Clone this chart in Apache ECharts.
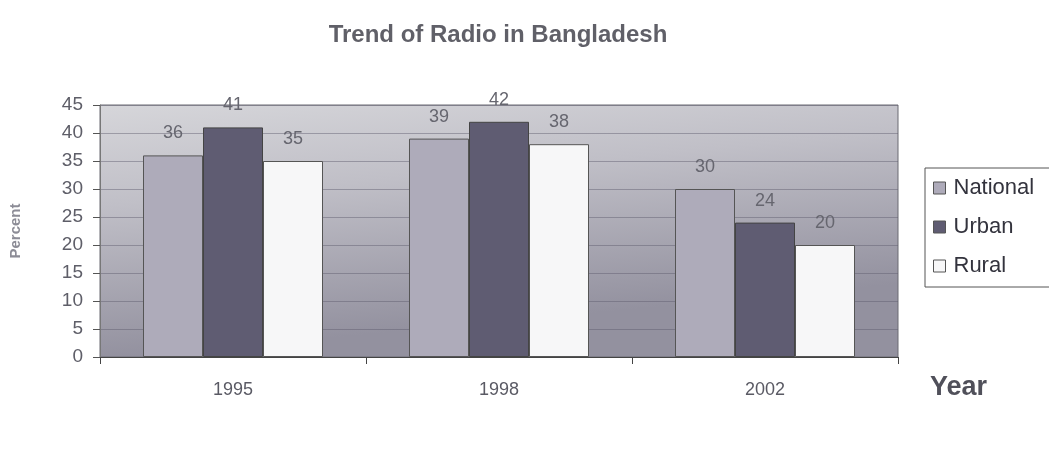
<!DOCTYPE html>
<html>
<head>
<meta charset="utf-8">
<script src="https://cdn.jsdelivr.net/npm/echarts@6/dist/echarts.min.js"></script>
<style>
  html, body { margin: 0; padding: 0; background: #ffffff; }
  #chart { width: 1049px; height: 473px; }
</style>
</head>
<body>
<div id="chart"></div>
<script>
// Radio listening share by survey year
const years = ['1995', '1998', '2002'];
const national = [36, 39, 30];
const urban = [41, 42, 24];
const rural = [35, 38, 20];
const seriesNames = ['National', 'Urban', 'Rural'];

const FONT = 'Arial, "Liberation Sans", sans-serif';
const chart = echarts.init(document.getElementById('chart'));

const labelStyle = {
  show: true,
  position: 'top',
  distance: 13,
  color: '#66666f',
  fontFamily: FONT,
  fontSize: 18
};

function barSeries(name, data, color, border) {
  return {
    name: name,
    type: 'bar',
    data: data,
    barWidth: 60,
    barGap: '0%',
    itemStyle: { color: color, borderColor: border, borderWidth: 1 },
    label: labelStyle
  };
}

chart.setOption({
  animation: false,
  backgroundColor: '#ffffff',
  title: {
    text: 'Trend of Radio in Bangladesh',
    left: 493,
    textAlign: 'center',
    top: 18,
    textStyle: {
      fontFamily: FONT,
      fontSize: 24,
      fontWeight: 'bold',
      color: '#606068'
    }
  },
  legend: {
    orient: 'vertical',
    left: 925,
    top: 168,
    itemWidth: 12,
    itemHeight: 12,
    itemGap: 17,
    padding: [9, 30, 10, 8],
    borderColor: '#555',
    borderWidth: 1,
    icon: 'rect',
    itemStyle: { borderColor: '#555', borderWidth: 1 },
    textStyle: {
      fontFamily: FONT,
      fontSize: 22,
      lineHeight: 22,
      color: '#33333d',
      padding: [0, 0, 0, 3]
    },
    data: seriesNames
  },
  grid: {
    left: 100,
    right: 151,
    top: 105,
    bottom: 116,
    outerBoundsMode: 'none',
    containLabel: false,
    show: true,
    borderWidth: 1,
    borderColor: '#6a6a72',
    // plot area shading: light along the top, darkening towards the lower right
    backgroundColor: {
      type: 'linear', x: 0, y: 0, x2: 0.03, y2: 1,
      colorStops: [
        { offset: 0, color: '#d6d6da' },
        { offset: 0.4, color: '#c0bfc7' },
        { offset: 1, color: '#93919f' }
      ]
    }
  },
  xAxis: {
    type: 'category',
    data: years,
    axisLine: { lineStyle: { color: '#444', width: 1 } },
    axisTick: { show: true, length: 7, lineStyle: { color: '#444' } },
    axisLabel: {
      margin: 24,
      fontFamily: FONT,
      fontSize: 18,
      color: '#5a5a64'
    },
    name: 'Year',
    nameLocation: 'end',
    nameGap: 32,
    nameTextStyle: {
      fontFamily: FONT,
      fontSize: 27,
      fontWeight: 'bold',
      color: '#50505a',
      align: 'left',
      verticalAlign: 'top',
      padding: [17, 0, 0, 0]
    }
  },
  yAxis: {
    type: 'value',
    min: 0,
    max: 45,
    interval: 5,
    axisLine: { show: true, lineStyle: { color: '#777', width: 1 } },
    axisTick: { show: true, length: 7, lineStyle: { color: '#555' } },
    axisLabel: {
      margin: 17,
      fontFamily: FONT,
      fontSize: 19,
      color: '#5e5e68'
    },
    splitLine: { show: true, lineStyle: { color: '#5e5c6c', opacity: 0.45 } },
    name: 'Percent',
    nameLocation: 'middle',
    nameGap: 77,
    nameTextStyle: {
      fontFamily: FONT,
      fontSize: 15,
      fontWeight: 'bold',
      color: '#8c8c96'
    }
  },
  series: [
    barSeries(seriesNames[0], national, '#aeabba', '#555'),
    barSeries(seriesNames[1], urban, '#5f5c72', '#444'),
    barSeries(seriesNames[2], rural, '#f7f7f8', '#555')
  ]
});
</script>
</body>
</html>
